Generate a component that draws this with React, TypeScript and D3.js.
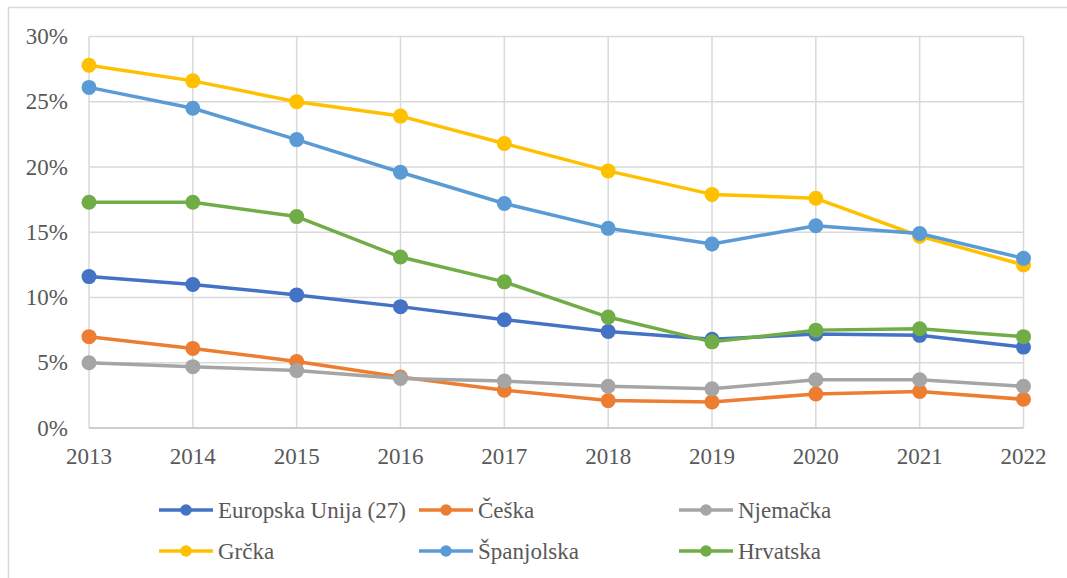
import React, { useEffect } from 'react'
import * as d3 from 'd3'

const years = [2013, 2014, 2015, 2016, 2017, 2018, 2019, 2020, 2021, 2022]
const yTicks = [0, 5, 10, 15, 20, 25, 30]

const eu = [11.6, 11.0, 10.2, 9.3, 8.3, 7.4, 6.8, 7.2, 7.1, 6.2]
const ceska = [7.0, 6.1, 5.1, 3.9, 2.9, 2.1, 2.0, 2.6, 2.8, 2.2]
const njemacka = [5.0, 4.7, 4.4, 3.8, 3.6, 3.2, 3.0, 3.7, 3.7, 3.2]
const grcka = [27.8, 26.6, 25.0, 23.9, 21.8, 19.7, 17.9, 17.6, 14.7, 12.5]
const spanjolska = [26.1, 24.5, 22.1, 19.6, 17.2, 15.3, 14.1, 15.5, 14.9, 13.0]
const hrvatska = [17.3, 17.3, 16.2, 13.1, 11.2, 8.5, 6.6, 7.5, 7.6, 7.0]

const seriesNames = ['Europska Unija (27)', 'Češka', 'Njemačka', 'Grčka', 'Španjolska', 'Hrvatska']
const seriesColors = ['#4472C4', '#ED7D31', '#A5A5A5', '#FFC000', '#5B9BD5', '#70AD47']
const seriesData = [eu, ceska, njemacka, grcka, spanjolska, hrvatska]

const W = 1067
const H = 578
const font = "'Times New Roman', Times, Tinos, 'Liberation Serif', 'DejaVu Serif', serif"
const textColor = '#595959'

export default function App() {
  useEffect(() => {
    document.body.style.margin = '0'
  }, [])

  const x = d3.scalePoint<number>().domain(years).range([89, 1023.5])
  const y = d3.scaleLinear().domain([0, 30]).range([428, 36.5])

  const line = d3.line<number>()
    .x((_, i) => x(years[i])!)
    .y(d => y(d))

  // legend: 3 columns, 2 rows
  const legCols = [159, 419, 679]
  const legRows = [510, 551]

  const txt = { fontFamily: font, fontSize: 23, fill: textColor }

  return (
    <svg width={W} height={H} style={{ display: 'block', background: '#fff', fontFamily: font }}>
      <rect x={8.5} y={7.5} width={1100} height={620} fill="#fff" stroke="#d9d9d9" strokeWidth={1.5} />

      {/* grid */}
      {yTicks.filter(t => t > 0).map(t => (
        <line key={'h' + t} x1={89} x2={1023.5} y1={y(t)} y2={y(t)} stroke="#d9d9d9" strokeWidth={1.5} />
      ))}
      {years.map(yr => (
        <line key={'v' + yr} x1={x(yr)} x2={x(yr)} y1={y(30)} y2={y(0)} stroke="#d9d9d9" strokeWidth={1.5} />
      ))}
      <line x1={89} x2={1023.5} y1={y(0)} y2={y(0)} stroke="#bfbfbf" strokeWidth={1.5} />

      {yTicks.map(t => (
        <text key={'yl' + t} x={68} y={y(t)} dy="0.33em" textAnchor="end" style={txt}>{t + '%'}</text>
      ))}
      {years.map(yr => (
        <text key={'xl' + yr} x={x(yr)} y={464} textAnchor="middle" style={txt}>{yr}</text>
      ))}

      {seriesData.map((s, si) => (
        <g key={seriesNames[si]}>
          <path d={line(s) || ''} fill="none" stroke={seriesColors[si]} strokeWidth={3.5} strokeLinejoin="round" />
          {s.map((v, i) => (
            <circle key={i} cx={x(years[i])} cy={y(v)} r={7.5} fill={seriesColors[si]} />
          ))}
        </g>
      ))}

      {seriesNames.map((n, i) => {
        const lx = legCols[i % 3]
        const ly = legRows[Math.floor(i / 3)]
        return (
          <g key={'lg' + n}>
            <line x1={lx} x2={lx + 54} y1={ly} y2={ly} stroke={seriesColors[i]} strokeWidth={3.5} />
            <circle cx={lx + 27} cy={ly} r={5.8} fill={seriesColors[i]} />
            <text x={lx + 59} y={ly} dy="0.33em" style={txt}>{n}</text>
          </g>
        )
      })}
    </svg>
  )
}
